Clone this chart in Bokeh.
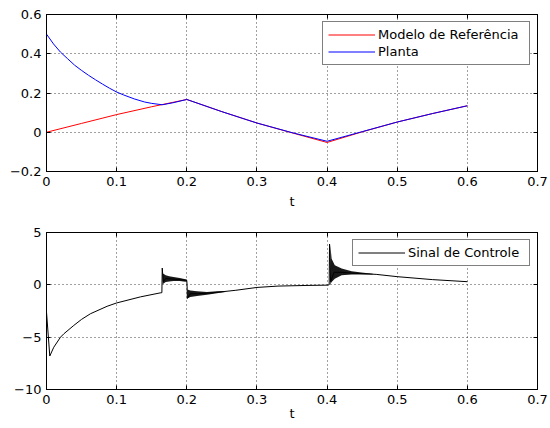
from bokeh.plotting import figure
from bokeh.models import Range1d, FixedTicker, LinearAxis, Legend, LegendItem
from bokeh.layouts import column
from bokeh.embed import file_html
from bokeh.resources import INLINE

# ---------------- data ----------------
x_ticks = [0, 0.1, 0.2, 0.3, 0.4, 0.5, 0.6, 0.7]
x_tick_labels = ["0", "0.1", "0.2", "0.3", "0.4", "0.5", "0.6", "0.7"]
y1_ticks = [-0.2, 0, 0.2, 0.4, 0.6]
y1_tick_labels = ["\u22120.2", "0", "0.2", "0.4", "0.6"]
y2_ticks = [-10, -5, 0, 5]
y2_tick_labels = ["\u221210", "\u22125", "0", "5"]

# reference model
t_ref = [0, 0.05, 0.1, 0.15, 0.2, 0.25, 0.3, 0.35, 0.4, 0.45, 0.5, 0.55, 0.6]
y_ref = [0, 0.045, 0.09, 0.13, 0.167, 0.105, 0.047, -0.003, -0.052, 0.002, 0.052, 0.095, 0.135]

# plant
t_pl = [0, 0.01, 0.02, 0.03, 0.04, 0.05, 0.06, 0.07, 0.08, 0.09, 0.1, 0.11, 0.125,
        0.14, 0.15, 0.165, 0.18, 0.2, 0.25, 0.3, 0.35, 0.4, 0.45, 0.5, 0.55, 0.6]
y_pl = [0.5, 0.45, 0.408, 0.375, 0.342, 0.315, 0.29, 0.267, 0.245, 0.224, 0.205, 0.19, 0.17,
        0.154, 0.147, 0.14, 0.15, 0.167, 0.105, 0.047, -0.002, -0.046, 0.003, 0.052, 0.095, 0.135]

# control signal (mean path)
t_u = [0, 0.0047, 0.0104, 0.02, 0.0247, 0.0389, 0.05, 0.0627, 0.0864, 0.1, 0.134, 0.162,
       0.1645, 0.165, 0.1665, 0.17, 0.18, 0.19, 0.2, 0.2005, 0.2008, 0.205, 0.215, 0.23,
       0.245, 0.27, 0.3, 0.33, 0.37, 0.4, 0.403, 0.4035, 0.405, 0.41, 0.42, 0.435, 0.45,
       0.47, 0.5, 0.55, 0.6]
u = [-2.6, -6.8, -5.96, -5.0, -4.68, -3.88, -3.3, -2.76, -2.05, -1.73, -1.15, -0.77,
     -0.75, 1.6, 0.3, 0.6, 0.55, 0.5, 0.42, -0.2, -1.3, -0.85, -0.85, -0.8,
     -0.7, -0.52, -0.25, -0.12, -0.06, -0.03, 0.0, 3.9, 0.3, 1.2, 1.2, 1.12, 1.07,
     1.0, 0.78, 0.5, 0.3]

# oscillation envelopes
t_b1 = [0.1655, 0.17, 0.175, 0.181, 0.19, 0.198, 0.2]
up_b1 = [1.1, 0.92, 0.82, 0.75, 0.65, 0.53, 0.5]
lo_b1 = [0.05, 0.27, 0.32, 0.36, 0.36, 0.3, 0.35]
t_b2 = [0.2008, 0.205, 0.2146, 0.2288, 0.243, 0.255]
up_b2 = [-0.45, -0.53, -0.62, -0.69, -0.62, -0.6]
lo_b2 = [-1.3, -1.17, -1.07, -0.94, -0.81, -0.68]
t_b3 = [0.4045, 0.4065, 0.411, 0.4208, 0.435, 0.449, 0.465]
up_b3 = [3.9, 2.5, 1.87, 1.55, 1.29, 1.17, 1.05]
lo_b3 = [0.0, 0.27, 0.59, 0.91, 0.98, 0.98, 0.98]

FONT = "DejaVu Sans"
FS = "13px"


def make_fig(height, yr, yt, yl, mtop, mbottom, label_standoff):
    p = figure(width=550, height=height, x_range=Range1d(0, 0.7), y_range=Range1d(*yr),
               output_backend="svg", toolbar_location=None,
               min_border_left=46, min_border_right=13,
               min_border_top=mtop, min_border_bottom=mbottom)
    p.outline_line_color = "black"
    p.outline_line_width = 1
    p.background_fill_color = "white"
    p.border_fill_color = "white"
    xo = {k: v for k, v in zip(x_ticks, x_tick_labels)}
    yo = {k: v for k, v in zip(yt, yl)}
    p.xaxis.ticker = FixedTicker(ticks=x_ticks)
    p.yaxis.ticker = FixedTicker(ticks=yt)
    p.xaxis.major_label_overrides = xo
    p.yaxis.major_label_overrides = yo
    p.xaxis.axis_label = "t"
    p.xaxis.axis_label_standoff = label_standoff
    p.xaxis.axis_label_text_font_style = "normal"
    p.xaxis.axis_label_text_font = FONT
    p.xaxis.axis_label_text_font_size = FS
    p.xaxis.axis_label_text_color = "black"
    for ax in (p.xaxis, p.yaxis):
        ax.major_label_text_font = FONT
        ax.major_label_text_font_size = FS
        ax.major_label_text_color = "black"
        ax.major_tick_in = 4
        ax.major_tick_out = 0
        ax.minor_tick_line_color = None
        ax.axis_line_color = "black"
        ax.major_tick_line_color = "black"
        ax.major_label_standoff = 5
    for loc, tk in (("above", x_ticks), ("right", yt)):
        ax = LinearAxis(ticker=FixedTicker(ticks=tk), major_label_text_font_size="0px",
                        major_label_text_alpha=0, major_label_standoff=0,
                        major_tick_in=4, major_tick_out=0,
                        minor_tick_line_color=None, axis_line_color="black")
        p.add_layout(ax, loc)
    p.xgrid.ticker = FixedTicker(ticks=x_ticks)
    p.ygrid.ticker = FixedTicker(ticks=yt)
    for g in (p.xgrid, p.ygrid):
        g.grid_line_color = "black"
        g.grid_line_dash = "1 3"
        g.grid_line_width = 1
        g.grid_line_alpha = 0.75
    return p


def style_legend(leg, lw):
    leg.location = "top_right"
    leg.border_line_color = "black"
    leg.border_line_width = 1
    leg.background_fill_color = "white"
    leg.background_fill_alpha = 1
    leg.label_text_font = FONT
    leg.label_text_font_size = FS
    leg.label_text_color = "black"
    leg.glyph_width = 47
    leg.glyph_height = 15
    leg.label_height = 15
    leg.label_width = lw
    leg.label_standoff = 3
    leg.padding = 5
    leg.spacing = 2
    leg.margin = 7


p1 = make_fig(214, (-0.2, 0.6), y1_ticks, y1_tick_labels, 14, 43, 5)
r_ref = p1.line(t_ref, y_ref, color="red", line_width=1)
r_pl = p1.line(t_pl, y_pl, color="blue", line_width=1)
leg1 = Legend(items=[LegendItem(label="Modelo de Referência", renderers=[r_ref]),
                     LegendItem(label="Planta", renderers=[r_pl])])
style_legend(leg1, 146)
p1.add_layout(leg1)

p2 = make_fig(214, (-10, 5), y2_ticks, y2_tick_labels, 18, 39, -1)
p2.varea(x=t_b1, y1=lo_b1, y2=up_b1, fill_color="black", fill_alpha=0.9)
p2.varea(x=t_b2, y1=lo_b2, y2=up_b2, fill_color="black", fill_alpha=0.9)
p2.varea(x=t_b3, y1=lo_b3, y2=up_b3, fill_color="black", fill_alpha=0.9)
r_u = p2.line(t_u, u, color="black", line_width=1)
leg2 = Legend(items=[LegendItem(label="Sinal de Controle", renderers=[r_u])])
style_legend(leg2, 116)
p2.add_layout(leg2)

layout = column(p1, p2, spacing=0)
open("out.html", "w").write(file_html(layout, INLINE))
